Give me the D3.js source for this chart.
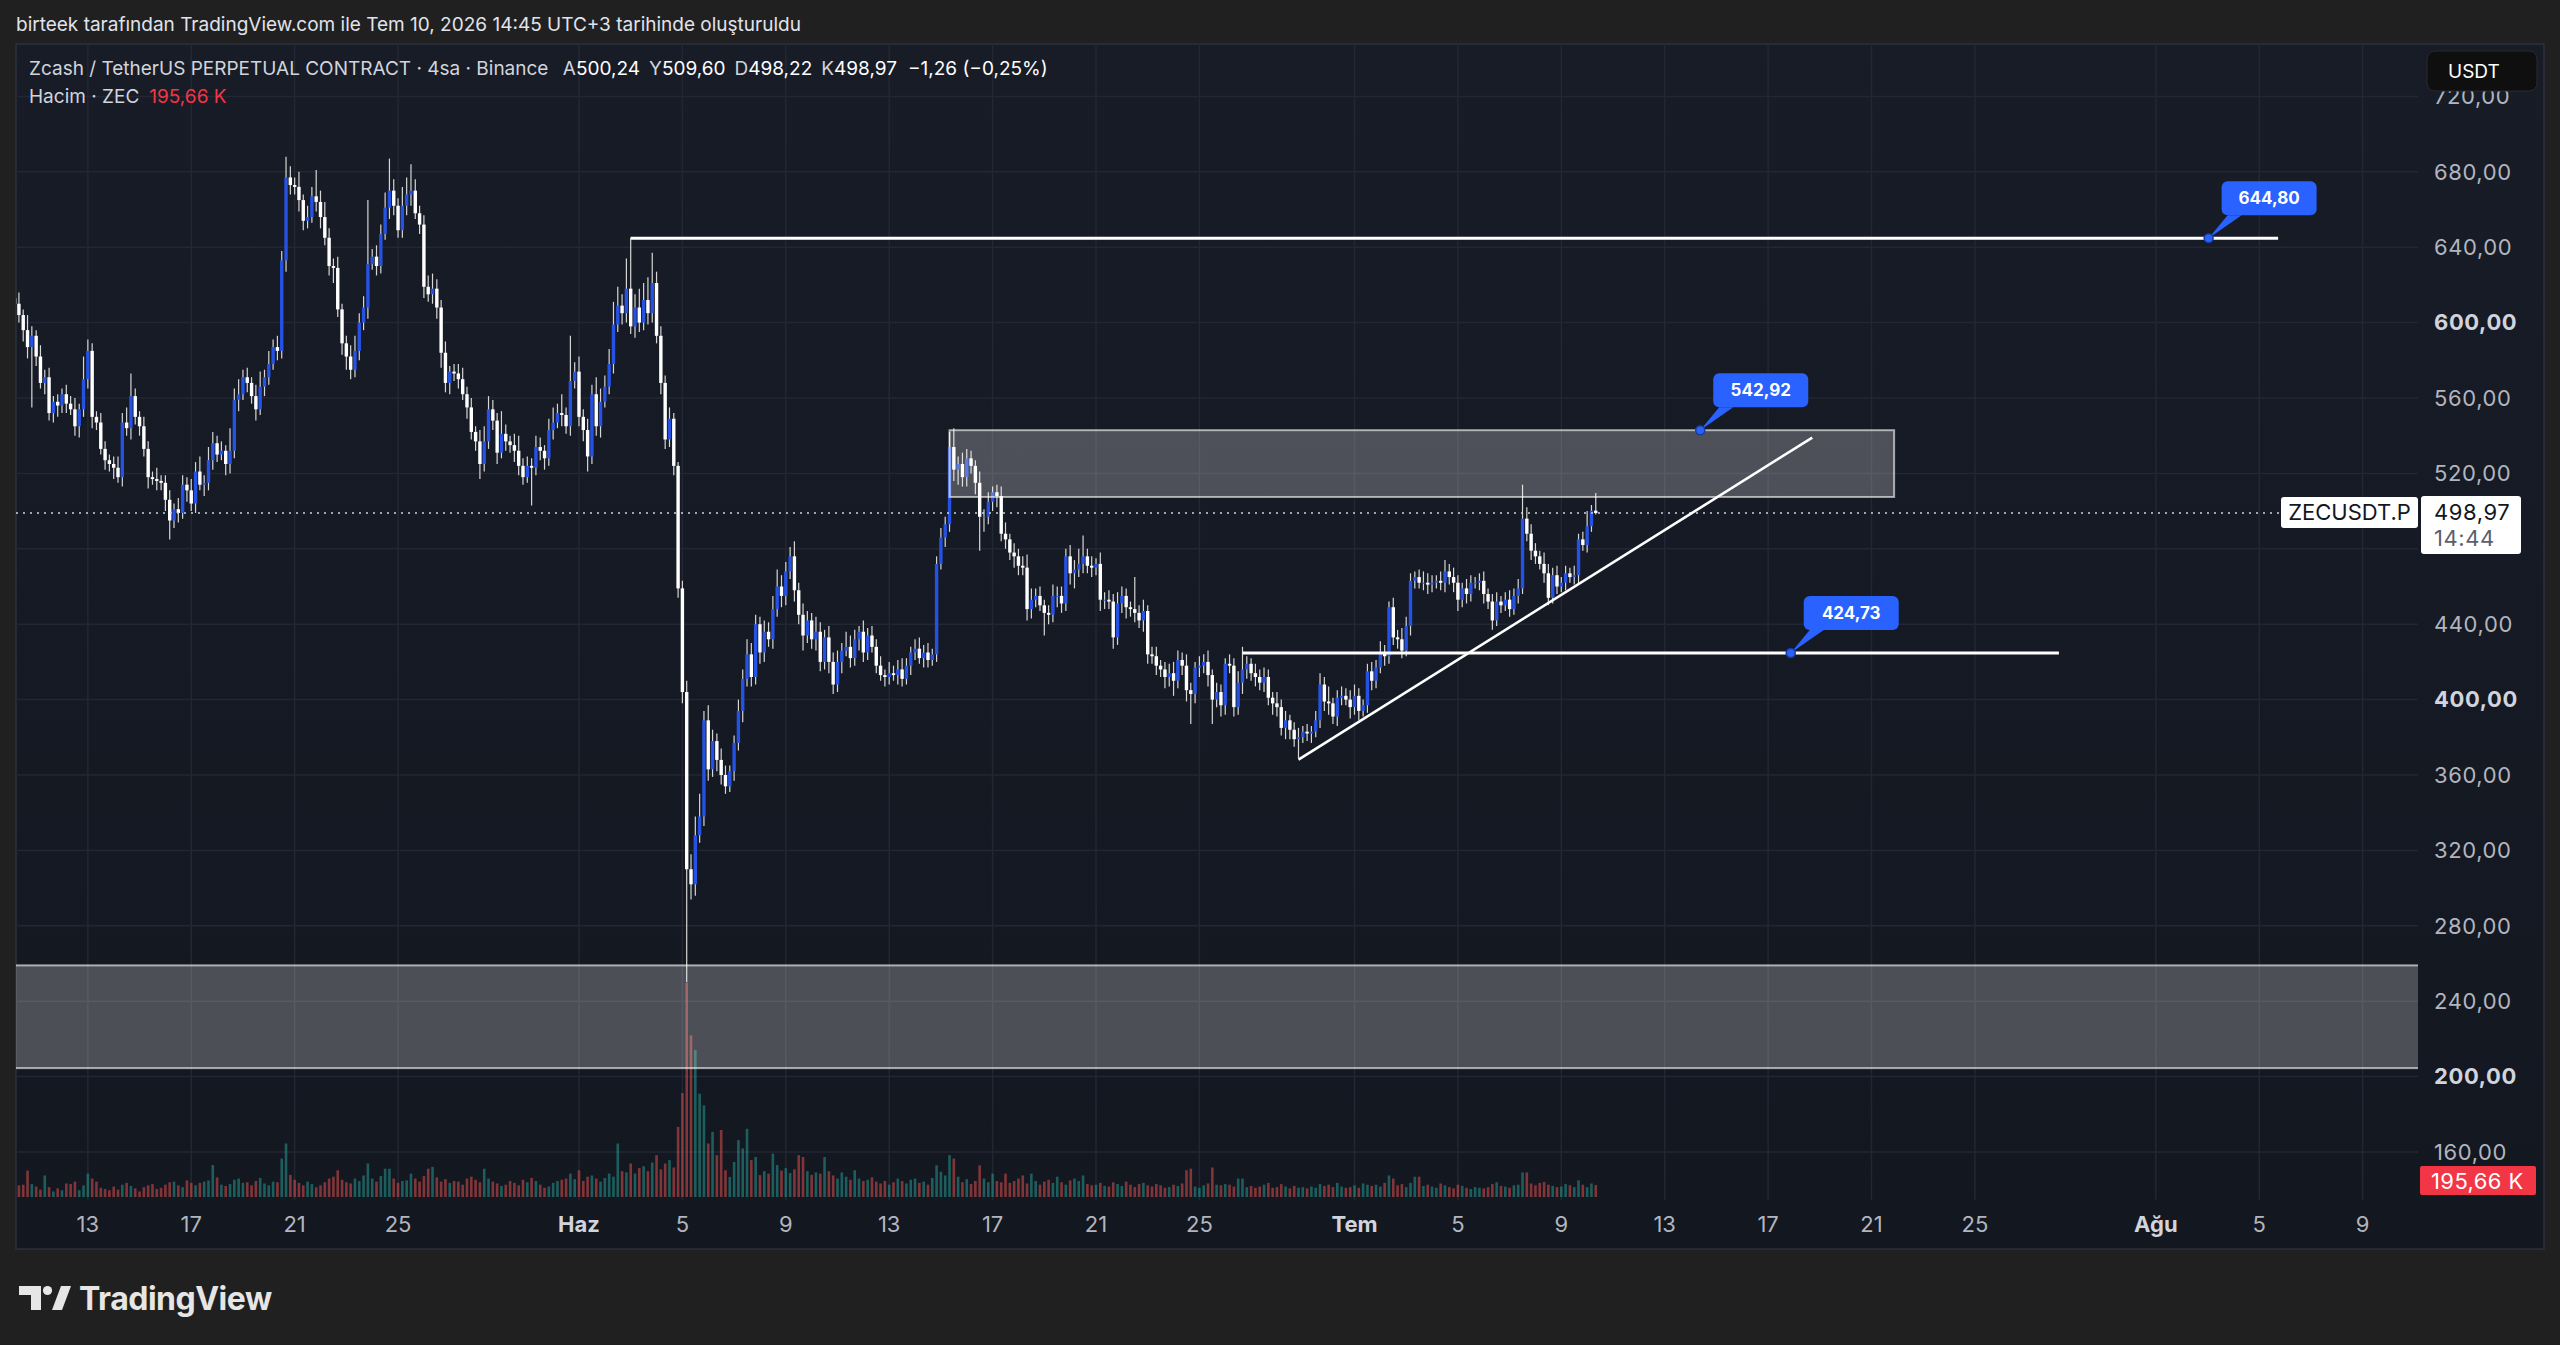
<!DOCTYPE html>
<html>
<head>
<meta charset="utf-8">
<script src="https://cdn.jsdelivr.net/npm/d3@7"></script>
<style>
  html, body { margin: 0; padding: 0; background: #202020; }
  svg { display: block; font-family: Inter, "Noto Sans", sans-serif; }
</style>
</head>
<body>
<div class="bbox"></div>
<script>
// 4h candles, first one opens May 10 04:00
const startTime = Date.UTC(2026, 4, 10, 4)
const stepMs = 4 * 3600 * 1000
const firstOpen = 613

// close of every candle (open = previous close)
const closes = [
  610,604,596,587,593,582,568,571,552,558,
  556,562,557,554,545,554,570,585,550,547,
  533,527,525,523,518,547,544,561,550,545,
  533,518,517,516,515,506,495,501,499,514,
  511,504,521,514,515,527,536,530,532,525,
  532,559,562,571,568,561,554,566,571,578,
  587,585,633,677,673,672,665,654,656,667,
  664,656,645,630,629,607,589,582,575,585,
  600,608,631,635,630,647,661,670,662,649,
  662,668,670,658,652,619,615,618,608,584,
  568,574,573,570,562,555,542,537,525,537,
  554,548,531,541,537,535,532,524,518,524,
  523,534,532,528,543,547,552,551,545,569,
  574,550,543,529,562,545,558,566,578,599,
  609,605,618,598,608,600,612,605,621,593,
  568,538,549,524,459,404,310,302,328,338,
  389,363,378,368,360,354,362,377,394,411,
  424,412,440,425,436,432,448,460,455,468,
  476,458,445,434,442,432,436,420,433,420,
  408,420,426,428,422,432,436,425,434,428,
  418,413,412,414,413,416,411,418,425,427,
  422,425,421,424,472,486,493,534,522,525,
  518,528,524,515,497,497,505,510,508,488,
  485,478,476,471,470,448,453,455,450,446,
  445,455,455,451,476,467,469,472,476,471,
  470,472,453,453,452,433,451,455,449,448,
  446,442,447,424,423,418,416,412,414,410,
  421,418,405,403,417,418,420,413,400,404,
  397,419,418,396,409,416,419,414,412,409,
  412,401,398,396,385,389,384,379,380,383,
  382,383,389,408,399,398,391,401,402,400,
  396,402,394,397,415,410,417,425,423,449,
  433,432,426,439,463,465,462,462,461,462,
  463,462,468,465,462,453,459,456,462,462,
  463,456,452,442,452,450,453,448,455,459,
  496,488,479,476,472,467,454,466,460,462,
  467,465,466,485,482,492,500.24,498.97
]

// upper wick length above the body
const hiWick = [
  4,6,3,8,5,3,6,4,5,3,
  4,3,5,4,6,3,12,6,4,3,
  5,4,3,4,6,5,8,12,4,3,
  5,4,3,6,3,4,5,3,6,5,
  4,6,5,8,4,7,6,4,5,3,
  12,6,8,4,5,3,6,8,4,7,
  4,6,5,11,6,4,8,3,6,5,
  14,6,8,5,4,6,3,4,6,8,
  5,6,34,4,6,5,8,17,6,4,
  10,9,14,6,4,5,6,8,5,4,
  6,3,4,5,6,4,5,3,6,8,
  7,5,4,12,5,3,6,8,4,5,
  4,6,5,3,6,8,5,10,4,24,
  5,8,4,6,5,9,7,6,8,12,
  10,6,16,27,7,10,9,12,16,6,
  5,4,6,3,2,4,6,8,10,12,
  5,8,6,4,6,5,3,4,6,5,
  8,6,5,4,6,5,7,9,6,5,
  5,8,4,6,5,4,8,5,4,6,
  5,6,4,8,6,5,3,6,4,5,
  4,5,3,6,4,5,6,4,3,5,
  6,4,5,3,4,5,4,8,10,4,
  6,5,4,3,6,4,5,3,4,5,
  6,3,5,4,5,7,6,4,5,3,
  4,6,5,5,4,6,5,8,11,4,
  5,3,6,4,5,4,6,5,4,3,
  17,4,6,3,4,5,3,4,5,6,
  5,4,6,4,3,5,4,6,3,5,
  4,3,5,4,6,12,4,3,5,4,
  5,4,3,6,4,5,3,4,5,3,
  4,3,5,6,4,8,3,4,5,4,
  5,6,4,3,4,5,4,6,4,3,
  5,4,6,5,4,3,4,6,5,4,
  3,5,6,4,5,4,3,5,4,3,
  4,5,3,4,5,3,4,5,4,5,
  18,6,5,4,3,6,5,4,5,3,
  4,3,5,3,4,8,3,9.36
]

// lower wick length below the body
const loWick = [
  5,4,6,6,32,5,3,6,4,5,
  6,4,5,3,5,6,4,5,6,4,
  3,5,4,6,3,5,4,6,4,5,
  4,6,3,5,4,6,10,4,5,3,
  6,4,5,3,6,4,5,4,3,6,
  5,4,6,3,5,4,6,3,5,4,
  3,5,4,6,5,4,6,5,4,3,
  5,6,4,5,8,4,6,7,5,4,
  5,4,6,3,5,4,3,6,5,4,
  4,5,6,3,5,6,4,5,6,8,
  5,6,4,5,3,6,4,5,8,4,
  4,5,6,3,5,4,6,5,4,3,
  20,4,5,6,4,5,3,6,4,5,
  4,5,6,8,4,5,6,3,4,5,
  4,6,5,4,6,5,4,6,5,4,
  6,5,4,5,5,6,60,8,6,4,
  5,6,4,6,5,4,3,5,4,6,
  4,5,4,6,5,4,5,4,6,5,
  4,6,5,8,4,5,6,5,4,6,
  5,4,6,3,5,4,6,5,4,3,
  4,3,5,4,3,5,4,3,5,4,
  3,5,4,3,4,3,5,4,6,8,
  5,5,4,6,18,8,4,5,6,4,
  5,4,6,5,4,6,5,4,3,12,
  5,4,6,5,4,6,8,4,5,4,
  5,4,6,5,4,6,4,5,6,4,
  5,4,6,5,4,5,4,6,5,8,
  4,5,6,16,5,5,4,6,13,4,
  6,5,4,5,4,6,5,4,5,4,
  5,4,6,5,4,6,5,4,10,3,
  4,5,3,4,5,6,4,5,4,3,
  6,4,5,3,4,5,4,3,5,4,
  4,5,4,3,5,4,3,4,5,4,
  3,4,5,4,5,6,4,5,4,3,
  4,5,4,5,3,4,3,4,3,4,
  3,4,5,4,3,5,4,3,4,3,
  4,3,4,5,3,4,3,0.75
]

// volume per candle, thousands of ZEC
const volumesK = [
  240,190,200,430,210,170,120,350,160,90,
  140,110,220,210,250,110,190,380,300,250,
  150,130,110,170,120,200,230,180,140,90,
  160,190,210,130,150,200,240,250,190,160,
  270,230,190,230,250,270,520,320,200,180,
  210,280,300,230,240,190,260,310,220,190,
  250,240,625,870,360,280,230,190,250,210,
  160,190,240,300,330,435,280,240,220,300,
  260,350,545,300,250,340,460,460,300,230,
  260,270,380,300,250,340,460,490,320,250,
  290,230,260,250,200,300,330,280,240,460,
  300,250,220,180,200,260,230,190,280,240,
  310,260,200,150,170,230,260,280,300,380,
  290,435,260,330,350,300,250,310,380,330,
  870,420,400,545,380,470,500,420,560,680,
  450,545,600,480,1140,1690,3480,2630,2390,1680,
  1490,870,1060,680,1090,435,326,570,925,790,
  1110,600,650,355,420,380,705,520,430,470,
  390,450,680,650,420,360,400,380,650,420,
  350,300,400,330,280,435,300,260,280,320,
  250,220,260,200,240,300,260,220,280,300,
  230,250,200,310,515,410,350,680,625,330,
  240,290,210,260,515,300,240,380,260,240,
  380,230,260,300,350,220,380,260,200,250,
  280,230,330,240,200,270,300,260,350,210,
  190,200,230,180,170,240,210,180,250,200,
  160,210,230,190,170,210,190,150,160,200,
  180,220,435,460,170,150,190,220,480,200,
  190,210,200,170,300,300,160,180,150,170,
  200,230,150,160,210,170,140,180,150,160,
  140,170,150,210,180,200,160,230,170,150,
  160,190,150,220,200,180,200,170,230,350,
  300,190,210,160,230,330,330,180,200,170,
  150,220,190,160,140,200,180,150,130,160,
  150,140,160,210,240,180,170,150,190,200,
  400,400,220,190,230,245,200,180,160,170,
  210,190,160,270,200,160,220,195.66
]

// header values as shown by the platform
const lastChange = -1.26
const lastChangePct = -0.25

// grid lines, labelled ticks (480 label sits under the price tag)
const priceTicks = [160, 200, 240, 280, 320, 360, 400, 440, 480, 520, 560, 600, 640, 680, 720]
const priceLabelTicks = [160, 200, 240, 280, 320, 360, 400, 440, 520, 560, 600, 640, 680, 720]
const boldPrices = [200, 400, 600]
const dateTicks = ['2026-05-13','2026-05-17','2026-05-21','2026-05-25','2026-06-01','2026-06-05','2026-06-09',
  '2026-06-13','2026-06-17','2026-06-21','2026-06-25','2026-07-01','2026-07-05','2026-07-09','2026-07-13',
  '2026-07-17','2026-07-21','2026-07-25','2026-08-01','2026-08-05','2026-08-09']
const dateLabels = ['13','17','21','25','Haz','5','9','13','17','21','25','Tem','5','9','13','17','21','25','Ağu','5','9']
const monthLabels = ['Haz', 'Tem', 'Ağu']

// drawings on the chart
const levelPrices = [644.80, 424.73]
const levelStarts = ['2026-06-03T00:00Z', '2026-06-26T16:00Z']
const levelEnds = ['2026-08-05T17:30Z', '2026-07-28T06:00Z']
const zoneTops = [542.92, 259]
const zoneBottoms = [507.5, 204.5]
const zoneStarts = ['2026-06-15T08:00Z', '2026-04-01T00:00Z']
const zoneEnds = ['2026-07-21T21:00Z', '2026-09-30T00:00Z']
const trendTimes = ['2026-06-28T20:00Z', '2026-07-18T17:00Z']
const trendPrices = [368.2, 539]
const calloutPrices = [644.80, 542.92, 424.73]
const calloutTimes = ['2026-08-03T01:00Z', '2026-07-14T09:00Z', '2026-07-17T21:00Z']

const lastPrice = 498.97

window.onload = () => {
    const W = 2560, H = 1345
    const plotL = 16, plotR = 2418, plotT = 44, plotB = 1200
    const upCol = '#2552e3', downCol = '#ffffff'
    let fmt = (v) => d3.format('.2f')(v).replace('.', ',')

    let svg = d3.select('.bbox').append('svg')
        .attr('width', W).attr('height', H)

    let x = d3.scaleUtc()
        .domain([new Date(Date.UTC(2026, 5, 1)), new Date(Date.UTC(2026, 6, 1))])
        .range([579, 1354.5])
    let y = d3.scaleLinear().domain([200, 680]).range([1076.6, 171.8])
    let yv = d3.scaleLinear().domain([0, 3480]).range([1197, 983])

    let defs = svg.append('defs')
    let grad = defs.append('linearGradient').attr('id', 'bg').attr('x1', 0).attr('y1', 0).attr('x2', 0).attr('y2', 1)
    grad.append('stop').attr('offset', '0%').attr('stop-color', '#181c27')
    grad.append('stop').attr('offset', '100%').attr('stop-color', '#131720')
    defs.append('clipPath').attr('id', 'plot')
        .append('rect').attr('x', plotL).attr('y', plotT).attr('width', plotR - plotL).attr('height', plotB - plotT)

    svg.append('rect').attr('width', W).attr('height', H).attr('fill', '#202020')
    svg.append('text')
        .attr('x', 16).attr('y', 31)
        .attr('fill', '#e0e3eb').style('font-size', '19px')
        .text('birteek tarafından TradingView.com ile Tem 10, 2026 14:45 UTC+3 tarihinde oluşturuldu')

    svg.append('rect')
        .attr('x', 16).attr('y', 44).attr('width', 2528).attr('height', 1205)
        .attr('fill', 'url(#bg)').attr('stroke', '#2c303b').attr('stroke-width', 1.5)

    // grid
    let grid = svg.append('g').attr('clip-path', 'url(#plot)')
    grid.selectAll('.hg').data(priceTicks).enter().append('line')
        .attr('x1', plotL).attr('x2', plotR)
        .attr('y1', d => y(d)).attr('y2', d => y(d))
        .attr('stroke', '#232733').attr('stroke-width', 1.5)
    grid.selectAll('.vg').data(dateTicks).enter().append('line')
        .attr('x1', d => x(new Date(d))).attr('x2', d => x(new Date(d)))
        .attr('y1', plotT).attr('y2', plotB)
        .attr('stroke', '#232733').attr('stroke-width', 1.5)

    let candles = closes.map((c, i) => {
        let o = i == 0 ? firstOpen : closes[i - 1]
        return {
            t: new Date(startTime + i * stepMs),
            o: o, c: c,
            h: Math.max(o, c) + hiWick[i],
            l: Math.min(o, c) - loWick[i],
            v: volumesK[i]
        }
    })

    let chart = svg.append('g').attr('clip-path', 'url(#plot)')

    // volume
    chart.selectAll('.vol').data(candles).enter().append('rect')
        .attr('x', d => x(d.t) - 1.3)
        .attr('width', 2.6)
        .attr('y', d => yv(d.v))
        .attr('height', d => yv(0) - yv(d.v))
        .attr('fill', d => d.c >= d.o ? 'rgba(38,166,154,0.5)' : 'rgba(239,83,80,0.5)')

    // candles
    let cg = chart.selectAll('.cd').data(candles).enter().append('g')
    cg.append('line')
        .attr('x1', d => x(d.t)).attr('x2', d => x(d.t))
        .attr('y1', d => y(d.h)).attr('y2', d => y(d.l))
        .attr('stroke', '#d6d6d6').attr('stroke-width', 1.2)
    cg.append('rect')
        .attr('x', d => x(d.t) - 1.7)
        .attr('width', 3.4)
        .attr('y', d => y(Math.max(d.o, d.c)))
        .attr('height', d => Math.max(1, Math.abs(y(d.o) - y(d.c))))
        .attr('fill', d => d.c >= d.o ? upCol : downCol)

    // zones
    chart.selectAll('.zone').data(zoneTops).enter().append('rect')
        .attr('x', (d, i) => x(new Date(zoneStarts[i])))
        .attr('width', (d, i) => x(new Date(zoneEnds[i])) - x(new Date(zoneStarts[i])))
        .attr('y', d => y(d))
        .attr('height', (d, i) => y(zoneBottoms[i]) - y(d))
        .attr('fill', 'rgba(255,255,255,0.24)')
        .attr('stroke', 'rgba(255,255,255,0.6)').attr('stroke-width', 2)

    // last price dotted line
    chart.append('line')
        .attr('x1', plotL).attr('x2', 2281)
        .attr('y1', y(lastPrice)).attr('y2', y(lastPrice))
        .attr('stroke', '#d1d4dc').attr('stroke-width', 1.5).attr('stroke-dasharray', '2,5')

    // horizontal levels
    chart.selectAll('.lvl').data(levelPrices).enter().append('line')
        .attr('x1', (d, i) => x(new Date(levelStarts[i])))
        .attr('x2', (d, i) => x(new Date(levelEnds[i])))
        .attr('y1', d => y(d)).attr('y2', d => y(d))
        .attr('stroke', '#ffffff').attr('stroke-width', 3)

    // trend line
    chart.append('line')
        .attr('x1', x(new Date(trendTimes[0]))).attr('y1', y(trendPrices[0]))
        .attr('x2', x(new Date(trendTimes[1]))).attr('y2', y(trendPrices[1]))
        .attr('stroke', '#ffffff').attr('stroke-width', 2.6)

    // callouts
    let cw = 95, ch = 34
    let co = chart.selectAll('.co').data(calloutPrices).enter().append('g')
        .attr('transform', (d, i) => `translate(${x(new Date(calloutTimes[i]))},${y(d)})`)
    co.append('path')
        .attr('d', `M0,0 L19,${-23} L33,${-23} Z`)
        .attr('fill', '#2962ff')
    co.append('rect')
        .attr('x', 13).attr('y', -57).attr('width', cw).attr('height', ch).attr('rx', 6)
        .attr('fill', '#2962ff')
    co.append('circle').attr('r', 4.5)
        .attr('fill', '#2962ff').attr('stroke', '#1a3a99').attr('stroke-width', 1.5)
    co.append('text')
        .attr('x', 13 + cw / 2).attr('y', -40).attr('dy', '0.35em')
        .attr('text-anchor', 'middle').attr('fill', '#ffffff')
        .style('font-size', '17px').style('font-weight', 700)
        .text(d => fmt(d))

    // legend
    let lg = svg.append('text').attr('x', 29).attr('y', 75).style('font-size', '19px').attr('fill', '#d1d4dc')
    lg.append('tspan').text('Zcash / TetherUS PERPETUAL CONTRACT · 4sa · Binance ')
    let last = candles[candles.length - 1]
    let ohlc = [['A', last.o], ['Y', last.h], ['D', last.l], ['K', last.c]]
    for (let p of ohlc) {
        lg.append('tspan').attr('dx', 9).attr('fill', '#d1d4dc').text(p[0])
        lg.append('tspan').attr('fill', '#ffffff').text(fmt(p[1]))
    }
    lg.append('tspan').attr('dx', 11).attr('fill', '#ffffff')
        .text(`−${fmt(Math.abs(lastChange))} (−${fmt(Math.abs(lastChangePct))}%)`)

    let lg2 = svg.append('text').attr('x', 29).attr('y', 103).style('font-size', '19px').attr('fill', '#d1d4dc')
    lg2.append('tspan').text('Hacim · ZEC')
    lg2.append('tspan').attr('dx', 10).attr('fill', '#f23645').text(fmt(last.v) + ' K')

    // price axis
    svg.selectAll('.pl').data(priceLabelTicks).enter().append('text')
        .attr('x', 2434).attr('y', d => y(d)).attr('dy', '0.35em')
        .attr('fill', d => boldPrices.includes(d) ? '#d1d4dc' : '#b2b5be')
        .style('font-size', '22px').style('letter-spacing', '0.6px')
        .style('font-weight', d => boldPrices.includes(d) ? 700 : 400)
        .text(d => fmt(d))

    // usdt button
    svg.append('rect').attr('x', 2427).attr('y', 51).attr('width', 110).attr('height', 40).attr('rx', 8)
        .attr('fill', '#0f0f0f').attr('stroke', '#2a2a2a')
    svg.append('text').attr('x', 2448).attr('y', 71).attr('dy', '0.35em')
        .attr('fill', '#ffffff').style('font-size', '19px').text('USDT')

    // symbol + last price labels
    svg.append('rect').attr('x', 2281).attr('y', 497).attr('width', 137).attr('height', 31).attr('rx', 3).attr('fill', '#ffffff')
    svg.append('text').attr('x', 2349.5).attr('y', 512.5).attr('dy', '0.35em').attr('text-anchor', 'middle')
        .attr('fill', '#131722').style('font-size', '22px').text('ZECUSDT.P')
    svg.append('rect').attr('x', 2421).attr('y', 496).attr('width', 100).attr('height', 58).attr('rx', 3).attr('fill', '#ffffff')
    svg.append('text').attr('x', 2434).attr('y', 512).attr('dy', '0.35em')
        .attr('fill', '#131722').style('font-size', '22px').style('letter-spacing', '0.6px').text(fmt(lastPrice))
    svg.append('text').attr('x', 2434).attr('y', 538).attr('dy', '0.35em')
        .attr('fill', '#5d606b').style('font-size', '22px').style('letter-spacing', '0.6px').text('14:44')

    // volume label
    svg.append('rect').attr('x', 2420).attr('y', 1166).attr('width', 116).attr('height', 29).attr('rx', 2).attr('fill', '#f23645')
    svg.append('text').attr('x', 2431).attr('y', 1181).attr('dy', '0.35em')
        .attr('fill', '#ffffff').style('font-size', '22px').style('letter-spacing', '0.4px').text(fmt(last.v) + ' K')

    // time axis
    svg.selectAll('.tl').data(dateTicks).enter().append('text')
        .attr('x', d => x(new Date(d))).attr('y', 1224).attr('dy', '0.35em')
        .attr('text-anchor', 'middle')
        .attr('fill', (d, i) => monthLabels.includes(dateLabels[i]) ? '#d1d4dc' : '#b2b5be')
        .style('font-size', '22px')
        .style('font-weight', (d, i) => monthLabels.includes(dateLabels[i]) ? 700 : 400)
        .text((d, i) => dateLabels[i])

    // tradingview logo
    let logo = svg.append('g').attr('fill', '#e6e6e6')
    logo.append('path').attr('d', 'M19,1286 H41 V1310 H31 V1295 H19 Z')
    logo.append('circle').attr('cx', 47.5).attr('cy', 1290.5).attr('r', 4.6)
    logo.append('path').attr('d', 'M52,1310 L61,1286 L71,1286 L62,1310 Z')
    logo.append('text').attr('x', 79).attr('y', 1310)
        .style('font-size', '32px').style('font-weight', 700).style('letter-spacing', '-0.5px')
        .text('TradingView')
}
</script>
</body>
</html>
